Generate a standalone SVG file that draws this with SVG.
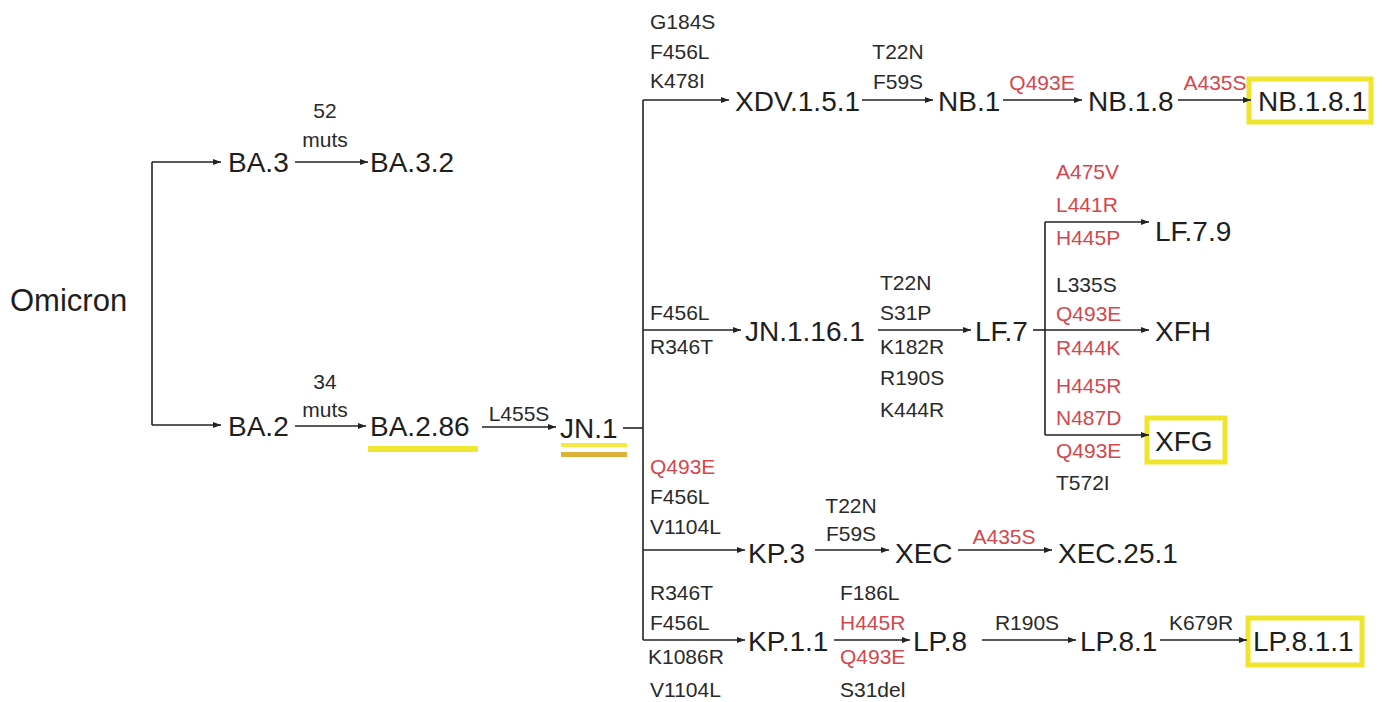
<svg xmlns="http://www.w3.org/2000/svg" width="1385" height="702" viewBox="0 0 1385 702">
<defs>
<marker id="ah" markerUnits="userSpaceOnUse" markerWidth="9" markerHeight="8" refX="8" refY="4" orient="auto">
<path d="M0,1 L8,4 L0,7 Z" fill="#222"/>
</marker>
<style>
.n{font-family:"Liberation Sans",Arial,sans-serif;font-size:28px;fill:#1e1e1e}
.m{font-family:"Liberation Sans",Arial,sans-serif;font-size:21px;fill:#2a2a2a}
.r{fill:#d4474d}
.c{text-anchor:middle}
.e{stroke:#222;stroke-width:1.6;fill:none}
.a{stroke:#222;stroke-width:1.6;fill:none;marker-end:url(#ah)}
.box{fill:none;stroke:#f0e52c;stroke-width:5}
</style>
</defs>
<rect width="1385" height="702" fill="#ffffff"/>

<g id="highlights">
<rect x="368" y="446" width="110" height="6" fill="#f0e732"/>
<rect x="561" y="443" width="66" height="4" fill="#f2ea40"/>
<rect x="561" y="452" width="66" height="5" fill="#dcb23a"/>
<rect class="box" x="1249" y="79" width="122" height="43"/>
<rect class="box" x="1147" y="418" width="78" height="44"/>
<rect class="box" x="1248" y="618" width="114" height="47"/>
</g>

<g id="connectors">
<path class="e" d="M152,162 V425"/>
<path class="a" d="M152,162 H221"/>
<path class="a" d="M152,425 H221"/>
<path class="a" d="M295,162 H368"/>
<path class="a" d="M295,426 H366"/>
<path class="a" d="M482,427 H556"/>
<path class="e" d="M623,428 H643"/>
<path class="e" d="M643,100 V640"/>
<path class="a" d="M643,100 H729"/>
<path class="a" d="M862,100 H933"/>
<path class="a" d="M1003,100 H1082"/>
<path class="a" d="M1178,100 H1251"/>
<path class="a" d="M643,330 H741"/>
<path class="a" d="M878,330 H971"/>
<path class="e" d="M1033,330 H1045"/>
<path class="e" d="M1045,222 V435"/>
<path class="a" d="M1045,222 H1149"/>
<path class="a" d="M1045,330 H1149"/>
<path class="a" d="M1045,435 H1149"/>
<path class="a" d="M643,550 H745"/>
<path class="a" d="M815,550 H889"/>
<path class="a" d="M958,550 H1052"/>
<path class="a" d="M643,640 H745"/>
<path class="a" d="M834,640 H910"/>
<path class="a" d="M982,640 H1076"/>
<path class="a" d="M1160,640 H1247"/>
</g>

<g id="labels">
<text class="m c" x="325" y="118">52</text>
<text class="m c" x="325" y="147">muts</text>
<text class="m c" x="325" y="389">34</text>
<text class="m c" x="325" y="417">muts</text>
<text class="m c" x="519" y="421">L455S</text>
<text class="m" x="650" y="29">G184S</text>
<text class="m" x="650" y="59">F456L</text>
<text class="m" x="650" y="88">K478I</text>
<text class="m c" x="898" y="59">T22N</text>
<text class="m c" x="898" y="89">F59S</text>
<text class="m r c" x="1042" y="90">Q493E</text>
<text class="m r c" x="1215" y="90">A435S</text>
<text class="m" x="650" y="320">F456L</text>
<text class="m" x="650" y="354">R346T</text>
<text class="m" x="880" y="290">T22N</text>
<text class="m" x="880" y="320">S31P</text>
<text class="m" x="880" y="354">K182R</text>
<text class="m" x="880" y="385">R190S</text>
<text class="m" x="880" y="417">K444R</text>
<text class="m r" x="1056" y="179">A475V</text>
<text class="m r" x="1056" y="212">L441R</text>
<text class="m r" x="1056" y="245">H445P</text>
<text class="m" x="1056" y="292">L335S</text>
<text class="m r" x="1056" y="321">Q493E</text>
<text class="m r" x="1056" y="355">R444K</text>
<text class="m r" x="1056" y="393">H445R</text>
<text class="m r" x="1056" y="425">N487D</text>
<text class="m r" x="1056" y="458">Q493E</text>
<text class="m" x="1056" y="490">T572I</text>
<text class="m r" x="650" y="474">Q493E</text>
<text class="m" x="650" y="504">F456L</text>
<text class="m" x="650" y="534">V1104L</text>
<text class="m c" x="851" y="513">T22N</text>
<text class="m c" x="851" y="541">F59S</text>
<text class="m r c" x="1004" y="544">A435S</text>
<text class="m" x="650" y="600">R346T</text>
<text class="m" x="650" y="630">F456L</text>
<text class="m" x="648" y="664">K1086R</text>
<text class="m" x="650" y="697">V1104L</text>
<text class="m" x="840" y="600">F186L</text>
<text class="m r" x="840" y="630">H445R</text>
<text class="m r" x="840" y="664">Q493E</text>
<text class="m" x="840" y="697">S31del</text>
<text class="m c" x="1027" y="630">R190S</text>
<text class="m c" x="1201" y="630">K679R</text>
</g>

<g id="node-omicron"><text class="n" x="10" y="311" style="font-size:31px">Omicron</text></g>
<g id="node-ba3"><text class="n" x="228" y="172">BA.3</text></g>
<g id="node-ba32"><text class="n" x="370" y="172">BA.3.2</text></g>
<g id="node-ba2"><text class="n" x="228" y="436">BA.2</text></g>
<g id="node-ba286"><text class="n" x="370" y="436">BA.2.86</text></g>
<g id="node-jn1"><text class="n" x="560" y="438">JN.1</text></g>
<g id="node-xdv1511"><text class="n" x="735" y="111">XDV.1.5.1</text></g>
<g id="node-nb1"><text class="n" x="938" y="111">NB.1</text></g>
<g id="node-nb18"><text class="n" x="1088" y="111">NB.1.8</text></g>
<g id="node-nb181"><text class="n" x="1258" y="111">NB.1.8.1</text></g>
<g id="node-jn1161"><text class="n" x="745" y="341">JN.1.16.1</text></g>
<g id="node-lf7"><text class="n" x="975" y="341">LF.7</text></g>
<g id="node-lf79"><text class="n" x="1155" y="241">LF.7.9</text></g>
<g id="node-xfh"><text class="n" x="1155" y="341">XFH</text></g>
<g id="node-xfg"><text class="n" x="1155" y="451">XFG</text></g>
<g id="node-kp3"><text class="n" x="748" y="563">KP.3</text></g>
<g id="node-xec"><text class="n" x="895" y="563">XEC</text></g>
<g id="node-xec251"><text class="n" x="1058" y="563">XEC.25.1</text></g>
<g id="node-kp11"><text class="n" x="748" y="651">KP.1.1</text></g>
<g id="node-lp8"><text class="n" x="913" y="651">LP.8</text></g>
<g id="node-lp81"><text class="n" x="1080" y="651">LP.8.1</text></g>
<g id="node-lp811"><text class="n" x="1253" y="651">LP.8.1.1</text></g>
</svg>
